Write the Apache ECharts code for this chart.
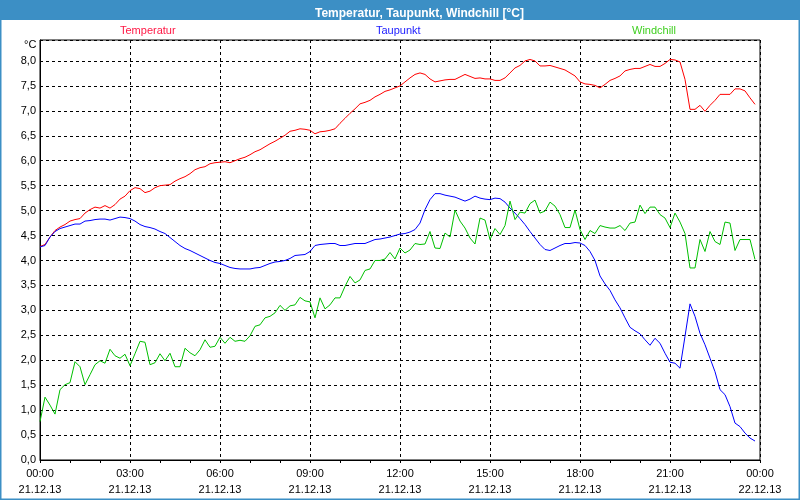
<!DOCTYPE html>
<html>
<head>
<meta charset="utf-8">
<title>Temperatur, Taupunkt, Windchill</title>
<script src="https://cdn.jsdelivr.net/npm/echarts@6/dist/echarts.min.js"></script>
<style>
  html, body { margin: 0; padding: 0; background: #fff; }
  #chart { width: 800px; height: 500px; }
</style>
</head>
<body>
<div id="chart"></div>
<script>
// 10-minute readings, 21.12.13 00:00 .. 23:50
const temperatur = [
  4.28, 4.32, 4.47, 4.60, 4.67, 4.72,
  4.79, 4.82, 4.84, 4.95, 5.02, 5.07,
  5.05, 5.10, 5.05, 5.12, 5.23, 5.29,
  5.40, 5.46, 5.44, 5.36, 5.39, 5.46,
  5.50, 5.51, 5.52, 5.59, 5.64, 5.68,
  5.74, 5.82, 5.86, 5.88, 5.94, 5.96,
  5.97, 5.98, 5.96, 6.00, 6.04, 6.07,
  6.12, 6.18, 6.22, 6.28, 6.34, 6.39,
  6.45, 6.51, 6.59, 6.61, 6.64, 6.63,
  6.61, 6.54, 6.58, 6.59, 6.61, 6.64,
  6.75, 6.85, 6.95, 7.04, 7.14, 7.17,
  7.21, 7.28, 7.33, 7.39, 7.42, 7.46,
  7.50, 7.58, 7.66, 7.73, 7.76, 7.73,
  7.64, 7.58, 7.60, 7.62, 7.63, 7.63,
  7.68, 7.73, 7.69, 7.65, 7.66, 7.64,
  7.64, 7.61, 7.61, 7.66, 7.76, 7.86,
  7.91, 8.00, 8.03, 8.00, 7.90, 7.90,
  7.91, 7.88, 7.85, 7.82, 7.76, 7.70,
  7.58, 7.54, 7.53, 7.51, 7.46, 7.53,
  7.61, 7.65, 7.70, 7.80, 7.83, 7.85,
  7.85, 7.89, 7.93, 7.89, 7.89, 7.95,
  8.03, 8.02, 7.98, 7.63, 7.03, 7.03,
  7.11, 6.99, 7.11, 7.21, 7.33, 7.33,
  7.33, 7.44, 7.44, 7.40, 7.26, 7.13
]

const taupunkt = [
  4.27, 4.30, 4.47, 4.58, 4.64, 4.67,
  4.70, 4.73, 4.73, 4.79, 4.80, 4.82,
  4.83, 4.83, 4.81, 4.84, 4.87, 4.86,
  4.84, 4.79, 4.72, 4.68, 4.66, 4.63,
  4.58, 4.54, 4.46, 4.38, 4.30, 4.24,
  4.20, 4.15, 4.10, 4.05, 4.00, 3.96,
  3.94, 3.90, 3.86, 3.84, 3.83, 3.83,
  3.83, 3.85, 3.86, 3.90, 3.94, 3.97,
  3.98, 4.00, 4.04, 4.10, 4.11, 4.12,
  4.18, 4.30, 4.32, 4.33, 4.34, 4.34,
  4.30, 4.30, 4.32, 4.34, 4.34, 4.34,
  4.38, 4.42, 4.43, 4.45, 4.47, 4.50,
  4.53, 4.54, 4.57, 4.62, 4.75, 5.02,
  5.22, 5.34, 5.34, 5.31, 5.29, 5.27,
  5.23, 5.19, 5.23, 5.29, 5.25, 5.23,
  5.22, 5.25, 5.24, 5.17, 5.05, 4.95,
  4.84, 4.72, 4.58, 4.45, 4.32, 4.22,
  4.20, 4.25, 4.30, 4.34, 4.34, 4.36,
  4.35, 4.30, 4.18, 4.00, 3.69, 3.53,
  3.40, 3.21, 3.05, 2.85, 2.66, 2.59,
  2.53, 2.41, 2.30, 2.44, 2.34, 2.14,
  1.96, 1.94, 1.84, 2.48, 3.13, 2.88,
  2.54, 2.31, 2.04, 1.77, 1.41, 1.31,
  1.07, 0.74, 0.67, 0.54, 0.44, 0.38
]

const windchill = [
  0.77, 1.26, 1.10, 0.92, 1.41, 1.51,
  1.55, 1.97, 1.87, 1.51, 1.71, 1.91,
  1.99, 1.94, 2.22, 2.09, 2.04, 2.12,
  1.89, 2.13, 2.38, 2.36, 1.91, 1.95,
  2.13, 1.99, 2.14, 1.87, 1.87, 2.24,
  2.15, 2.09, 2.21, 2.41, 2.26, 2.28,
  2.46, 2.34, 2.46, 2.38, 2.40, 2.38,
  2.49, 2.68, 2.71, 2.85, 2.88, 2.95,
  3.10, 3.00, 3.09, 3.11, 3.26, 3.19,
  3.17, 2.85, 3.25, 3.03, 3.11, 3.25,
  3.25, 3.48, 3.68, 3.55, 3.61, 3.80,
  3.83, 4.00, 4.00, 4.03, 4.16, 4.03,
  4.25, 4.15, 4.21, 4.34, 4.32, 4.33,
  4.58, 4.25, 4.24, 4.55, 4.47, 5.01,
  4.79, 4.65, 4.45, 4.33, 4.85, 4.81,
  4.42, 4.64, 4.52, 4.70, 5.19, 4.82,
  4.97, 4.95, 5.14, 5.21, 4.95, 4.99,
  5.17, 5.09, 4.92, 4.66, 4.66, 5.01,
  4.62, 4.42, 4.60, 4.54, 4.70, 4.67,
  4.65, 4.65, 4.70, 4.60, 4.75, 4.77,
  5.11, 4.94, 5.07, 5.07, 4.92, 4.85,
  4.66, 4.95, 4.77, 4.54, 3.85, 3.85,
  4.42, 4.18, 4.58, 4.38, 4.32, 4.77,
  4.75, 4.20, 4.42, 4.42, 4.42, 4.02
]

// minutes after 21.12.13 00:00 for each reading
const minutes = temperatur.map((_, i) => i * 10)
const xTicks = [0, 180, 360, 540, 720, 900, 1080, 1260, 1440]
const xTickLabels = [
  '00:00\n21.12.13', '03:00\n21.12.13', '06:00\n21.12.13', '09:00\n21.12.13',
  '12:00\n21.12.13', '15:00\n21.12.13', '18:00\n21.12.13', '21:00\n21.12.13',
  '00:00\n22.12.13'
]

const pair = arr => arr.map((v, i) => [minutes[i], v])
const font = 'Liberation Sans, Arial, sans-serif'

const chart = echarts.init(document.getElementById('chart'))

chart.setOption({
  backgroundColor: '#ffffff',
  animation: false,
  textStyle: { fontFamily: font },
  graphic: [
    {
      type: 'rect',
      shape: { x: 0, y: 0, width: 800, height: 20 },
      style: { fill: '#3c8fc5' },
      silent: true,
    },
    {
      type: 'rect',
      shape: { x: 0.5, y: 0.5, width: 799, height: 499 },
      style: { fill: 'none', stroke: '#3c8fc5', lineWidth: 2 },
      silent: true,
    },
    {
      type: 'text',
      left: 24,
      top: 39,
      style: { text: '°C', fill: '#000', font: '11px ' + font },
      silent: true,
    },
  ],
  title: {
    text: 'Temperatur, Taupunkt, Windchill [°C]',
    left: 310,
    top: 3,
    textStyle: { color: '#ffffff', fontSize: 12, fontWeight: 'bold', fontFamily: font },
  },
  legend: [
    {
      data: [{ name: 'Temperatur', textStyle: { color: '#ff1744' } }],
      left: 110, top: 19, icon: 'none', itemWidth: 0, selectedMode: false,
      textStyle: { fontSize: 11, fontFamily: font },
    },
    {
      data: [{ name: 'Taupunkt', textStyle: { color: '#1a1aff' } }],
      left: 366, top: 19, icon: 'none', itemWidth: 0, selectedMode: false,
      textStyle: { fontSize: 11, fontFamily: font },
    },
    {
      data: [{ name: 'Windchill', textStyle: { color: '#3fcf1f' } }],
      left: 622, top: 19, icon: 'none', itemWidth: 0, selectedMode: false,
      textStyle: { fontSize: 11, fontFamily: font },
    },
  ],
  grid: {
    left: 40,
    right: 40,
    top: 40,
    bottom: 40,
    show: true,
    borderColor: '#000',
    borderWidth: 1,
    backgroundColor: '#fff',
  },
  xAxis: {
    type: 'value',
    min: 0,
    max: 1440,
    interval: 180,
    axisLine: { lineStyle: { color: '#000', width: 1 } },
    axisTick: { show: true, length: 3, lineStyle: { color: '#000' } },
    minorTick: { show: true, splitNumber: 3, length: 3, lineStyle: { color: '#000' } },
    splitLine: { lineStyle: { color: '#000', type: [3, 3], width: 1 } },
    axisLabel: {
      color: '#000',
      fontSize: 11,
      lineHeight: 16,
      margin: 6,
      formatter: v => xTickLabels[xTicks.indexOf(v)] ?? '',
    },
  },
  yAxis: {
    type: 'value',
    min: 0,
    max: 8.42,
    interval: 0.5,
    axisLine: { show: true, lineStyle: { color: '#000', width: 1 } },
    axisTick: { show: false },
    splitLine: { lineStyle: { color: '#000', type: [3, 3], width: 1 } },
    axisLabel: {
      color: '#000',
      fontSize: 11,
      margin: 4,
      showMaxLabel: false,
      formatter: v => v.toFixed(1).replace('.', ','),
    },
  },
  series: [
    {
      name: 'Temperatur',
      type: 'line',
      data: pair(temperatur),
      showSymbol: false,
      lineStyle: { color: '#ff0000', width: 1 },
      itemStyle: { color: '#ff0000' },
    },
    {
      name: 'Taupunkt',
      type: 'line',
      data: pair(taupunkt),
      showSymbol: false,
      lineStyle: { color: '#0000ff', width: 1 },
      itemStyle: { color: '#0000ff' },
    },
    {
      name: 'Windchill',
      type: 'line',
      data: pair(windchill),
      showSymbol: false,
      lineStyle: { color: '#00c000', width: 1 },
      itemStyle: { color: '#00c000' },
    },
  ],
})
</script>
</body>
</html>
